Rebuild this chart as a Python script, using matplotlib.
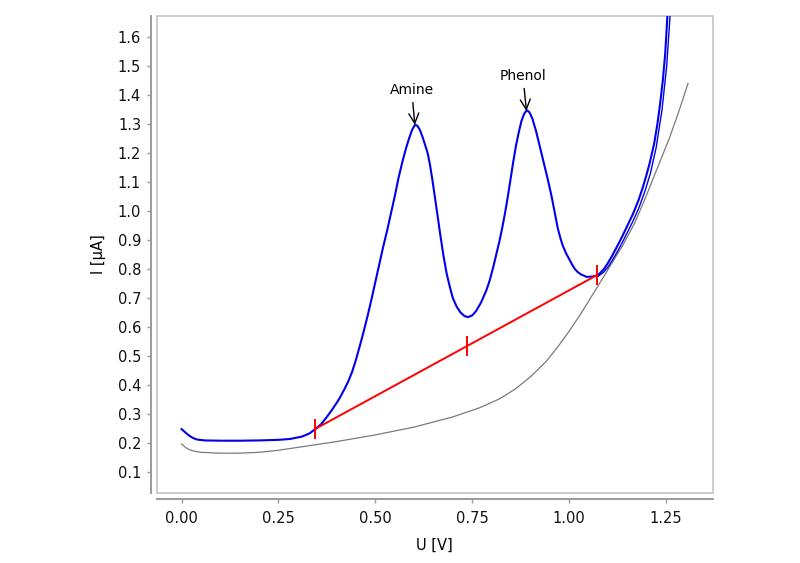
import matplotlib

matplotlib.use("Agg")
import matplotlib.pyplot as plt
from matplotlib.patches import Rectangle
from matplotlib.ticker import FormatStrFormatter

# forward scan (sample)
blue_x = [0.0, 0.01, 0.02, 0.03, 0.04, 0.06, 0.10, 0.15, 0.20, 0.25, 0.28, 0.31,
          0.33, 0.345, 0.36, 0.375, 0.39, 0.40, 0.408, 0.42, 0.43, 0.44, 0.45,
          0.46, 0.47, 0.48, 0.49, 0.50, 0.51, 0.52, 0.53, 0.54, 0.55, 0.56, 0.571,
          0.58, 0.587, 0.595, 0.602, 0.608, 0.615, 0.622, 0.628, 0.635, 0.641,
          0.647, 0.653, 0.66, 0.668, 0.676, 0.684, 0.692, 0.70, 0.71, 0.72, 0.73,
          0.739, 0.75, 0.76, 0.773, 0.787, 0.795, 0.805, 0.813, 0.821, 0.828,
          0.835, 0.842, 0.849, 0.856, 0.863, 0.87, 0.877, 0.884, 0.891, 0.898,
          0.905, 0.915, 0.925, 0.935, 0.945, 0.955, 0.963, 0.971, 0.978, 0.984,
          0.992, 1.0, 1.008, 1.015, 1.022, 1.03, 1.045, 1.06, 1.075, 1.09, 1.10,
          1.11, 1.12, 1.13, 1.14, 1.15, 1.165, 1.18, 1.19, 1.20, 1.209, 1.22,
          1.228, 1.235, 1.242, 1.248, 1.255]
blue_y = [0.248, 0.236, 0.225, 0.217, 0.212, 0.209, 0.208, 0.208, 0.209, 0.211,
          0.214, 0.222, 0.233, 0.248, 0.265, 0.29, 0.318, 0.338, 0.355, 0.385,
          0.412, 0.445, 0.487, 0.535, 0.585, 0.638, 0.695, 0.755, 0.815, 0.875,
          0.93, 0.99, 1.05, 1.115, 1.176, 1.22, 1.25, 1.28, 1.297, 1.295, 1.28,
          1.255, 1.23, 1.20, 1.16, 1.11, 1.055, 0.99, 0.915, 0.845, 0.785, 0.74,
          0.70, 0.67, 0.65, 0.638, 0.634, 0.64, 0.655, 0.685, 0.728, 0.76, 0.81,
          0.855, 0.90, 0.945, 0.995, 1.05, 1.11, 1.17, 1.225, 1.27, 1.31, 1.335,
          1.348, 1.34, 1.32, 1.275, 1.22, 1.165, 1.11, 1.05, 0.995, 0.94, 0.905,
          0.88, 0.855, 0.835, 0.815, 0.80, 0.79, 0.782, 0.773, 0.774, 0.779, 0.80,
          0.82, 0.843, 0.868, 0.893, 0.92, 0.948, 0.99, 1.04, 1.08, 1.125, 1.17,
          1.235, 1.30, 1.37, 1.45, 1.54, 1.70]

# return part of the scan near the end
back_x = [1.072, 1.09, 1.10, 1.11, 1.12, 1.13, 1.14, 1.15, 1.165, 1.18, 1.195,
          1.21, 1.225, 1.24, 1.252, 1.262]
back_y = [0.772, 0.79, 0.806, 0.826, 0.849, 0.873, 0.898, 0.925, 0.965, 1.01,
          1.065, 1.13, 1.22, 1.35, 1.50, 1.70]

# blank / background
gray_x = [0.0, 0.01, 0.02, 0.035, 0.05, 0.10, 0.15, 0.20, 0.25, 0.30, 0.40, 0.50,
          0.60, 0.70, 0.77, 0.82, 0.86, 0.90, 0.94, 0.97, 1.00, 1.03, 1.06, 1.09,
          1.115, 1.14, 1.17, 1.20, 1.23, 1.26, 1.285, 1.307]
gray_y = [0.197, 0.185, 0.177, 0.171, 0.168, 0.165, 0.165, 0.168, 0.175, 0.185,
          0.205, 0.228, 0.255, 0.29, 0.322, 0.352, 0.385, 0.428, 0.48, 0.53,
          0.585, 0.645, 0.71, 0.775, 0.83, 0.885, 0.96, 1.055, 1.155, 1.255, 1.35,
          1.44]

# baseline markers
base_x = [0.344, 0.737, 1.072]
base_y = [0.248, 0.535, 0.779]

peak_labels = ["Amine", "Phenol"]
peak_x = [0.602, 0.89]
peak_y = [1.297, 1.345]
label_x = [0.594, 0.881]
label_y = [1.417, 1.466]

x_ticks = [0.0, 0.25, 0.5, 0.75, 1.0, 1.25]
y_ticks = [0.1, 0.2, 0.3, 0.4, 0.5, 0.6, 0.7, 0.8, 0.9, 1.0, 1.1, 1.2, 1.3, 1.4, 1.5, 1.6]

plt.rcParams["font.family"] = ["DejaVu Sans"]

fig = plt.figure(figsize=(8, 5.63), dpi=100)
ax = fig.add_axes([0.196, 0.1243, 0.695, 0.847])

ax.plot(gray_x, gray_y, color="#7a7a7a", lw=0.9)
ax.plot(back_x, back_y, color="#0000ee", lw=1.0)
ax.plot(blue_x, blue_y, color="#0000ee", lw=1.5)
ax.plot([base_x[0], base_x[-1]], [base_y[0], base_y[-1]], color="#ff0000", lw=1.4)
ax.plot(base_x, base_y, ls="none", marker="|", ms=14, mew=1.4, color="#ff0000")

for name, px, py, tx, ty in zip(peak_labels, peak_x, peak_y, label_x, label_y):
    ax.annotate(name, xy=(px, py), xytext=(tx, ty), ha="center", va="center",
                fontsize=10,
                arrowprops=dict(arrowstyle="->", color="black", lw=1,
                                shrinkA=2, shrinkB=0, mutation_scale=18))

ax.set_xlim(-0.064, 1.371)
ax.set_ylim(0.0276, 1.672)
ax.set_xticks(x_ticks)
ax.set_yticks(y_ticks)
ax.xaxis.set_major_formatter(FormatStrFormatter("%.2f"))
ax.yaxis.set_major_formatter(FormatStrFormatter("%.1f"))

for side in ("top", "right"):
    ax.spines[side].set_visible(False)
for side in ("left", "bottom"):
    ax.spines[side].set_position(("outward", 4.3))
    ax.spines[side].set_color("#9a9a9a")
    ax.spines[side].set_linewidth(1.4)

ax.add_patch(Rectangle((0, 0), 1, 1, transform=ax.transAxes, fill=False,
                       ec="#c4c4c4", lw=1.2, clip_on=False))

ax.tick_params(axis="both", direction="out", length=3, width=1, color="#9a9a9a",
               labelsize=10.5, labelcolor="#111111")
ax.tick_params(axis="y", pad=4)
ax.tick_params(axis="x", pad=6)

ax.set_xlabel("U [V]", fontsize=10.5, labelpad=8)
ax.set_ylabel("I [µA]", fontsize=10.5, labelpad=8)

fig.savefig("out.png", dpi=100)
